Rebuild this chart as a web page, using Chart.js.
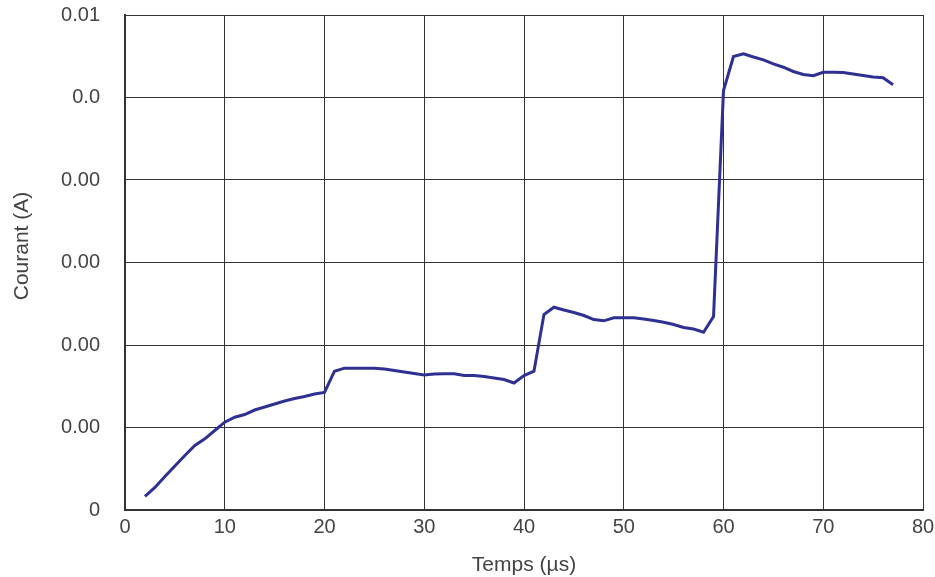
<!DOCTYPE html>
<html>
<head>
<meta charset="utf-8">
<script src="https://cdn.jsdelivr.net/npm/chart.js@4"></script>
<style>
html,body{margin:0;padding:0;background:#fff;}
#wrap{width:935px;height:577px;}
</style>
</head>
<body>
<div id="wrap"><canvas id="myChart" width="935" height="577"></canvas></div>
<script>
// temps en µs
var temps=[2,3,4,5,6,7,8,9,10,11,12,13,14,15,16,17,18,19,20,21,22,23,24,25,26,27,28,29,30,31,32,33,34,35,36,37,38,39,40,41,42,43,44,45,46,47,48,49,50,51,52,53,54,55,56,57,58,59,60,61,62,63,64,65,66,67,68,69,70,71,72,73,74,75,76,77];
// courant en A
var courant=[0.000273,0.000455,0.000677,0.000889,0.001101,0.001303,0.001438,0.001606,0.001774,0.001875,0.001929,0.00202,0.002081,0.002141,0.002202,0.002253,0.002293,0.002343,0.002374,
  0.002804,0.002865,0.002865,0.002865,0.002865,0.002848,0.002818,0.002788,0.002758,0.002727,0.002747,0.002752,0.002752,0.002717,0.002717,0.002697,0.002667,0.002636,0.002566,0.002717,0.002804,
  0.003949,0.004097,0.00404,0.00399,0.003929,0.003848,0.003822,0.003883,0.003883,0.003883,0.003859,0.003828,0.003794,0.003747,0.003687,0.003657,0.003592,0.003909,
  0.008475,0.009162,0.009216,0.009152,0.009095,0.009014,0.008945,0.008859,0.008798,0.008772,0.008844,0.008844,0.008838,0.008808,0.008778,0.008747,0.008731,0.00859];
var xTicks=[0,10,20,30,40,50,60,70,80];
var yTicks=[0,0.01/6,0.02/6,0.03/6,0.04/6,0.05/6,0.01];
var yLabels=['0','0.00','0.00','0.00','0.00','0.0','0.01'];
var yTitle='Courant (A)';

var pts=temps.map(function(t,i){return {x:t,y:courant[i]};});
var family='"Liberation Sans", Arial, sans-serif';
var font={family:family,size:20};

// titre de l'axe y dessiné à la main (décalé vers le haut comme sur l'original)
var yTitlePlugin={
    id:'yTitle',
    afterDraw:function(chart){
        var c=chart.ctx;
        c.save();
        c.translate(22,246);
        c.rotate(-Math.PI/2);
        c.font='21px '+family;
        c.fillStyle='#444';
        c.textAlign='center';
        c.textBaseline='middle';
        c.fillText(yTitle,0,0);
        c.restore();
    }
};

var ctx=document.getElementById('myChart').getContext('2d');
var myChart=new Chart(ctx,{
    type:'line',
    data:{
        datasets:[{
            label:'Courant',
            data:pts,
            borderColor:'#2e3192',
            borderWidth:3,
            pointRadius:0,
            tension:0,
            fill:false
        }]
    },
    options:{
        responsive:false,
        animation:false,
        layout:{padding:{left:0,right:12,top:15,bottom:0}},
        plugins:{legend:{display:false},tooltip:{enabled:false}},
        scales:{
            x:{
                type:'linear',min:0,max:80,
                afterBuildTicks:function(s){s.ticks=xTicks.map(function(v){return {value:v};});},
                afterFit:function(s){s.height=67;s.paddingLeft=0;s.paddingRight=0;},
                grid:{color:'#333',lineWidth:1,drawTicks:false},
                border:{color:'#333',width:2},
                ticks:{color:'#444',font:font,padding:5,maxRotation:0},
                title:{display:true,text:'Temps (µs)',color:'#444',font:{family:family,size:21},padding:{top:10,bottom:-1}}
            },
            y:{
                type:'linear',min:0,max:0.01,
                afterBuildTicks:function(s){s.ticks=yTicks.map(function(v){return {value:v};});},
                afterFit:function(s){s.width=125;s.paddingTop=0;s.paddingBottom=0;},
                grid:{color:'#333',lineWidth:1,drawTicks:false},
                border:{color:'#333',width:2},
                ticks:{color:'#444',font:font,padding:25,
                    callback:function(v,i){return yLabels[i];}}
            }
        }
    },
    plugins:[yTitlePlugin]
});
</script>
</body>
</html>
